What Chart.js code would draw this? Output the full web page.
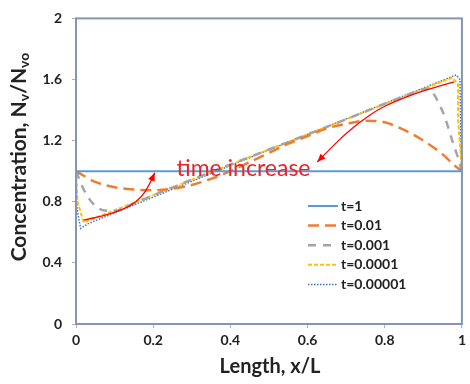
<!DOCTYPE html>
<html>
<head>
<meta charset="utf-8">
<script src="https://cdn.jsdelivr.net/npm/chart.js@4.4.1/dist/chart.umd.min.js"></script>
<style>
  html, body { margin: 0; padding: 0; background: #fff; }
  #wrap { width: 470px; height: 384px; }
</style>
</head>
<body>
<div id="wrap"><canvas id="line_chart" width="470" height="384"></canvas></div>
<script>
// series labels and tick values
var seriesLabels = ['t=1', 't=0.01', 't=0.001', 't=0.0001', 't=0.00001'];
var xTicks = [0, 0.2, 0.4, 0.6, 0.8, 1];
var yTicks = [0, 0.4, 0.8, 1.2, 1.6, 2];

// t=1
var t1X = [0, 1];
var t1Y = [1, 1];
// t=0.01
var t2X = [0, 0.05, 0.1, 0.15, 0.2, 0.25, 0.3, 0.35, 0.4, 0.45, 0.5, 0.55, 0.6, 0.65, 0.7, 0.75, 0.8, 0.85, 0.9, 0.95, 0.98, 1];
var t2Y = [1, 0.93, 0.895, 0.88, 0.875, 0.885, 0.91, 0.95, 1.0, 1.06, 1.12, 1.18, 1.23, 1.28, 1.31, 1.33, 1.32, 1.27, 1.2, 1.11, 1.04, 1.0];
// t=0.001
var t3X = [0, 0.02, 0.04, 0.07, 0.1, 0.15, 0.3, 0.5, 0.7, 0.85, 0.91, 0.95, 0.975, 0.992, 1];
var t3Y = [1, 0.88, 0.8, 0.745, 0.74, 0.79, 0.945, 1.142, 1.34, 1.49, 1.54, 1.39, 1.2, 1.07, 1.0];
// t=0.0001
var t4X = [0, 0.004, 0.02, 0.5, 0.975, 0.99, 0.99, 1];
var t4Y = [1, 0.8, 0.665, 1.142, 1.612, 1.57, 1.34, 1.0];
// t=0.00001
var t5X = [0, 0.003, 0.012, 0.03, 0.5, 0.985, 0.995, 0.997, 1];
var t5Y = [1, 0.75, 0.625, 0.655, 1.14, 1.63, 1.6, 1.2, 1.0];

// "time increase" arrows, data units
var arrowLeftX = [0.02, 0.06, 0.1, 0.14, 0.17, 0.19, 0.204];
var arrowLeftY = [0.68, 0.70, 0.73, 0.77, 0.83, 0.91, 0.99];
var arrowRightX = [0.98, 0.93, 0.87, 0.82, 0.78, 0.74, 0.70, 0.66, 0.625];
var arrowRightY = [1.585, 1.55, 1.5, 1.45, 1.4, 1.33, 1.25, 1.15, 1.06];

function pts(xs, ys) {
    return xs.map(function (x, i) { return {x: x, y: ys[i]}; });
}

var tickFont = {family: 'Lato', size: 14, weight: 'bold'};

var framePlugin = {
    id: 'frame',
    afterDraw: function (chart) {
        var c = chart.ctx, a = chart.chartArea;
        var xs = chart.scales.x, ys = chart.scales.y;
        c.save();
        // frame
        c.strokeStyle = '#8397b3';
        c.lineWidth = 2;
        c.strokeRect(a.left, a.top, a.right - a.left, a.bottom - a.top);

        // arrows
        function arrow(xa, ya) {
            var p = xa.map(function (x, i) { return [xs.getPixelForValue(x), ys.getPixelForValue(ya[i])]; });
            c.strokeStyle = '#ff0000';
            c.fillStyle = '#ff0000';
            c.lineWidth = 1.3;
            c.beginPath();
            c.moveTo(p[0][0], p[0][1]);
            for (var i = 1; i < p.length - 1; i++) {
                var mx = (p[i][0] + p[i + 1][0]) / 2, my = (p[i][1] + p[i + 1][1]) / 2;
                c.quadraticCurveTo(p[i][0], p[i][1], mx, my);
            }
            var e = p[p.length - 1], b = p[p.length - 2];
            c.lineTo(e[0], e[1]);
            c.stroke();
            var ang = Math.atan2(e[1] - b[1], e[0] - b[0]);
            c.beginPath();
            c.moveTo(e[0], e[1]);
            c.lineTo(e[0] - 9 * Math.cos(ang - 0.4), e[1] - 9 * Math.sin(ang - 0.4));
            c.lineTo(e[0] - 9 * Math.cos(ang + 0.4), e[1] - 9 * Math.sin(ang + 0.4));
            c.closePath();
            c.fill();
        }
        arrow(arrowLeftX, arrowLeftY);
        arrow(arrowRightX, arrowRightY);

        c.fillStyle = '#e8242b';
        c.font = '23px Lato';
        c.textAlign = 'center';
        c.textBaseline = 'middle';
        c.fillText('time increase', xs.getPixelForValue(0.434), ys.getPixelForValue(1.02));

        // legend
        var ds = chart.data.datasets;
        c.textAlign = 'left';
        c.font = 'bold 14px Lato';
        for (var k = 0; k < ds.length; k++) {
            var y = 206 + k * 19.6;
            c.strokeStyle = ds[k].borderColor;
            c.lineWidth = ds[k].borderWidth;
            c.setLineDash(ds[k].borderDash || []);
            c.beginPath();
            c.moveTo(308, y);
            c.lineTo(338, y);
            c.stroke();
            c.setLineDash([]);
            c.fillStyle = '#222';
            c.fillText(ds[k].label, 341, y);
        }

        // axis titles
        c.fillStyle = '#222';
        c.font = 'bold 20px Lato';
        c.textAlign = 'center';
        c.fillText('Length, x/L', 270, 367);

        c.translate(19, 157);
        c.rotate(-Math.PI / 2);
        var parts = [['Concentration, N', 0], ['v', 1], ['/N', 0], ['vo', 1]];
        var big = 'bold 21px Lato', small = 'bold 14px Lato';
        var total = 0;
        parts.forEach(function (p) {
            c.font = p[1] ? small : big;
            total += c.measureText(p[0]).width;
        });
        var x0 = -total / 2;
        c.textAlign = 'left';
        parts.forEach(function (p) {
            c.font = p[1] ? small : big;
            c.fillText(p[0], x0, p[1] ? 5 : 0);
            x0 += c.measureText(p[0]).width;
        });
        c.restore();
    }
};

var ctx = document.getElementById('line_chart').getContext('2d');
new Chart(ctx, {
    type: 'line',
    data: {
        datasets: [{
            label: seriesLabels[0],
            data: pts(t1X, t1Y),
            borderColor: '#5b9bd5',
            borderWidth: 2,
            tension: 0
        }, {
            label: seriesLabels[1],
            data: pts(t2X, t2Y),
            borderColor: '#ed7d31',
            borderWidth: 2.5,
            borderDash: [11, 6],
            cubicInterpolationMode: 'monotone'
        }, {
            label: seriesLabels[2],
            data: pts(t3X, t3Y),
            borderColor: '#a5a5a5',
            borderWidth: 2.5,
            borderDash: [8, 7],
            cubicInterpolationMode: 'monotone'
        }, {
            label: seriesLabels[3],
            data: pts(t4X, t4Y),
            borderColor: '#ffc000',
            borderWidth: 2,
            borderDash: [4, 2],
            tension: 0
        }, {
            label: seriesLabels[4],
            data: pts(t5X, t5Y),
            borderColor: '#4472c4',
            borderWidth: 1.5,
            borderDash: [1.5, 1.5],
            tension: 0
        }]
    },
    options: {
        responsive: false,
        animation: false,
        elements: {point: {radius: 0}},
        layout: {padding: {left: 0, right: 7, top: 12, bottom: 0}},
        plugins: {legend: {display: false}, tooltip: {enabled: false}},
        scales: {
            x: {
                type: 'linear',
                min: 0, max: 1,
                afterBuildTicks: function (s) { s.ticks = xTicks.map(function (v) { return {value: v}; }); },
                afterFit: function (s) { s.height = 60; },
                grid: {drawOnChartArea: false, drawTicks: true, tickLength: 4, color: '#b0b0b0'},
                border: {display: false},
                ticks: {font: tickFont, color: '#222', padding: 4, maxRotation: 0,
                        callback: function (v) { return String(v); }}
            },
            y: {
                min: 0, max: 2,
                afterBuildTicks: function (s) { s.ticks = yTicks.map(function (v) { return {value: v}; }); },
                afterFit: function (s) { s.width = 76; },
                grid: {drawOnChartArea: false, drawTicks: true, tickLength: 4, color: '#b0b0b0'},
                border: {display: false},
                ticks: {font: tickFont, color: '#222', padding: 10,
                        callback: function (v) { return String(v); }}
            }
        }
    },
    plugins: [framePlugin]
});
</script>
</body>
</html>
